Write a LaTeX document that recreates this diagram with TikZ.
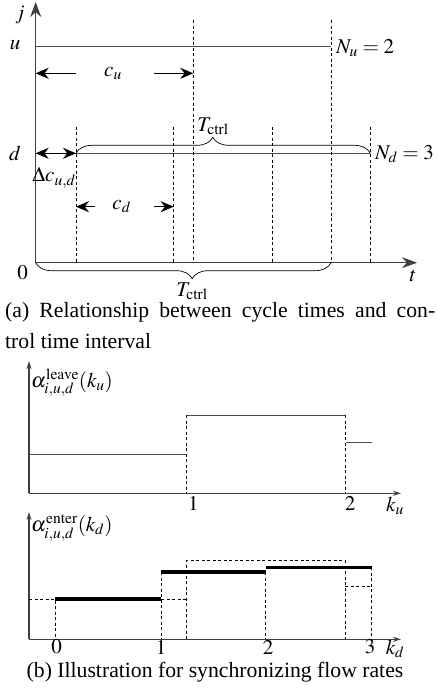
\documentclass[tikz,border=0pt]{standalone}
\usepackage{mathptmx}
\usepackage{fontspec}
\setmainfont{Liberation Serif}
\usetikzlibrary{arrows.meta,decorations.pathreplacing}
\begin{document}
\begin{tikzpicture}[x=1pt,y=-1pt,
  lbl/.style={inner sep=0pt,font=\fontsize{21}{31}\selectfont},
  captext/.style={inner sep=0pt,font=\fontsize{21.7}{31.5}\selectfont},
  axis/.style={line width=1.1pt,black!75},
  bigtip/.style={-{Stealth[length=15pt,width=11pt]}},
  smalltip/.style={-{Stealth[length=8pt,width=5pt]}},
  level/.style={line width=0.9pt,black!70},
  dline/.style={dashed,line width=0.6pt,dash pattern=on 3pt off 2.5pt},
  meas/.style={line width=1.2pt,{Stealth[length=13pt,width=11pt]}-},
  thickseg/.style={line width=3.5pt},
  brc/.style={decorate,line width=0.7pt}]
\path[use as bounding box] (0,0) rectangle (437,697);
% ---------- part (a)
\coordinate (O) at (35.7,262.7);
\coordinate (Ytop) at (35.7,2);
\coordinate (Xend) at (417,262.7);
\draw[axis,bigtip] (O) -- (Ytop);
\draw[axis,bigtip] (O) -- (Xend);
\coordinate (U0) at (35.7,46.7); \coordinate (U1) at (331,46.7);
\coordinate (D0) at (35.7,153.3); \coordinate (D1) at (370.3,153.3);
\draw[level] (U0) -- (U1);
\draw[level] (D0) -- (D1);
% dashed verticals
\foreach \x in {193.3,331} \draw[dline] (\x,20) -- (\x,262.7);
\foreach \x in {76,173.7,272.3,370.3} \draw[dline] (\x,126.7) -- (\x,262.7);
% labels
\node[lbl] (j) at (20,15) {$j$};
\node[lbl] (u) at (15,45) {$u$};
\node[lbl] (d) at (15,153) {$d$};
\node[lbl] (zero) at (22.7,273) {$0$};
\node[lbl] (t) at (413,276) {$t$};
\node[lbl,anchor=west] (Nu) at (336,48) {$N_u=2$};
\node[lbl,anchor=west] (Nd) at (375,154) {$N_d=3$};
% c_u
\node[lbl] (cu) at (113,73.3) {$c_u$};
\draw[meas] (35.7,73.3) -- (76,73.3);
\draw[meas] (193.3,73.3) -- (154,73.3);
% c_d
\node[lbl] (cd) at (121.7,206.7) {$c_d$};
\draw[meas] (76,206.7) -- (95,206.7);
\draw[meas] (173.7,206.7) -- (154,206.7);
% delta
\draw[line width=1.2pt,{Stealth[length=13pt,width=11pt]}-{Stealth[length=13pt,width=11pt]}] (35.7,153.3) -- (76,153.3);
\node[lbl] (dc) at (54,178) {$\Delta c_{u,d}$};
% braces
\coordinate (B1a) at (76,153.3); \coordinate (B1b) at (370.3,153.3);
\draw[brc,decoration={brace,amplitude=16pt,aspect=0.465}] (B1a) -- (B1b);
\node[lbl] (T1) at (213,126) {$T_{\mathrm{ctrl}}$};
\coordinate (B2a) at (35.7,262.7); \coordinate (B2b) at (331,262.7);
\draw[brc,decoration={brace,amplitude=16pt,aspect=0.53,mirror}] (B2a) -- (B2b);
\node[lbl] (T2) at (192,291) {$T_{\mathrm{ctrl}}$};
% caption a
\node[captext,anchor=north west,text width=430pt,align=justify] (capa) at (5,302)
  {(a) Relationship between cycle times and con-\linebreak trol time interval};
% ---------- part (b) top
\coordinate (O2) at (29,493.3);
\draw[axis,smalltip] (O2) -- (29,361);
\draw[axis,smalltip] (O2) -- (401,493.3);
\draw[level] (29,454.3) -- (186.7,454.3);
\draw[level] (186.7,415) -- (345.7,415);
\draw[level] (345.7,442.3) -- (372.3,442.3);
\draw[dline] (186.7,415) -- (186.7,493.3);
\draw[dline] (345.7,415) -- (345.7,493.3);
\node[lbl,anchor=west] (al) at (31,383) {$\alpha^{\mathrm{leave}}_{i,u,d}(k_u)$};
\node[lbl] (l1) at (193.3,503.5) {$1$};
\node[lbl] (l2) at (350,503.5) {$2$};
\node[lbl] (ku) at (395,506) {$k_u$};
% ---------- part (b) bottom
\coordinate (O3) at (29,639.3);
\draw[axis,smalltip] (O3) -- (29,512);
\draw[axis,smalltip] (O3) -- (401,639.3);
\draw[dline] (29,599) -- (55,599) -- (55,639.3);
\draw[dline] (161,572) -- (161,639.3);
\draw[dline] (161,599) -- (186.7,599);
\draw[dline] (186.7,639.3) -- (186.7,560.7) -- (345,560.7) -- (345,639.3);
\draw[dline] (345,586.7) -- (371.7,586.7);
\draw[dline] (371.7,567.3) -- (371.7,639.3);
\draw[dline] (265.7,572) -- (265.7,639.3);
\draw[thickseg] (55,599) -- (161,599);
\draw[thickseg] (161,572) -- (265.7,572);
\draw[thickseg] (265.7,567.3) -- (371.7,567.3);
\node[lbl,anchor=west] (ae) at (31,528) {$\alpha^{\mathrm{enter}}_{i,u,d}(k_d)$};
\node[lbl] (m0) at (56.7,647) {$0$};
\node[lbl] (m1) at (161,647) {$1$};
\node[lbl] (m2) at (268,647) {$2$};
\node[lbl] (m3) at (370,647) {$3$};
\node[lbl] (kd) at (395,649) {$k_d$};
\node[captext] (capb) at (215,672) {(b) Illustration for synchronizing flow rates};
\end{tikzpicture}
\end{document}
